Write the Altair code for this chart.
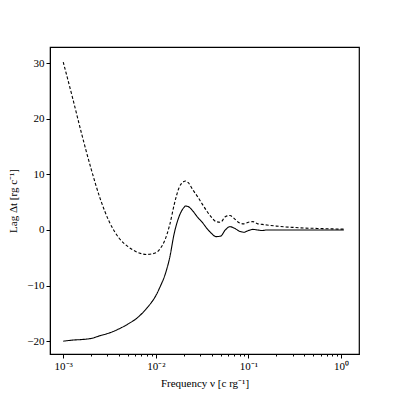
import altair as alt
import pandas as pd

# Frequency grid (c r_g^-1)
freq = [0.00100, 0.00126, 0.00158, 0.00200, 0.00251, 0.00316, 0.00398, 0.00501,
        0.00631, 0.00794, 0.0100, 0.0112, 0.0126, 0.0141, 0.0158, 0.0178, 0.0200,
        0.0209, 0.0224, 0.0251, 0.0282, 0.0316, 0.0355, 0.0398, 0.0447, 0.0501,
        0.0562, 0.0631, 0.0708, 0.0794, 0.0891, 0.100, 0.112, 0.126, 0.141, 0.158,
        0.200, 0.251, 0.316, 0.398, 0.501, 0.631, 0.794, 1.000, 1.07]

lag_solid = [-20.0, -19.8, -19.7, -19.5, -19.0, -18.5, -17.8, -16.9,
             -15.8, -14.1, -11.8, -10.1, -8.0, -5.0, -0.6, 2.4, 4.0,
             4.3, 4.2, 3.4, 2.3, 1.4, 0.3, -0.6, -1.2, -1.1,
             0.0, 0.6, 0.3, -0.2, -0.4, -0.1, 0.1, 0.0, -0.1, 0.0,
             0.0, 0.0, 0.0, 0.0, 0.0, 0.0, 0.0, 0.0, 0.0]

lag_dashed = [30.2, 23.8, 17.3, 11.0, 5.6, 1.4, -1.4, -3.0,
              -4.0, -4.4, -4.1, -3.3, -1.7, 0.9, 4.6, 7.6, 8.7,
              8.8, 8.5, 7.2, 6.0, 4.7, 3.4, 2.3, 1.5, 1.4,
              2.4, 2.6, 2.0, 1.3, 1.1, 1.4, 1.5, 1.1, 1.0, 0.9,
              0.7, 0.55, 0.45, 0.35, 0.3, 0.25, 0.2, 0.15, 0.15]

major_ticks = [0.001, 0.01, 0.1, 1]
minor_ticks = [m * d for d in (0.001, 0.01, 0.1) for m in (2, 3, 4, 5, 6, 7, 8, 9)]
y_ticks = [-20, -10, 0, 10, 20, 30]

df = pd.DataFrame({
    "freq": freq * 2,
    "lag": lag_solid + lag_dashed,
    "series": ["solid"] * len(freq) + ["dashed"] * len(freq),
})
minor_df = pd.DataFrame({"freq": minor_ticks})

FONT = "Liberation Serif"
xscale = alt.Scale(type="log", domain=[0.00072, 1.56])

label_expr = ("datum.value == 1 ? '10⁰' : datum.value == 0.1 ? '10⁻¹' : "
              "datum.value == 0.01 ? '10⁻²' : '10⁻³'")

lines = alt.Chart(df).mark_line(color="black", strokeWidth=1.1, interpolate="monotone").encode(
    x=alt.X("freq:Q", scale=xscale,
            axis=alt.Axis(values=major_ticks, labelExpr=label_expr, title="Frequency ν [c rg⁻¹]",
                          grid=False, tickSize=4, labelFontSize=11, titleFontSize=11,
                          labelFont=FONT, titleFont=FONT, titleFontWeight="normal",
                          domainColor="black", tickColor="black", labelColor="black",
                          titleColor="black", labelPadding=2, titlePadding=6)),
    y=alt.Y("lag:Q", scale=alt.Scale(domain=[-22.3, 32.9], nice=False, zero=False),
            axis=alt.Axis(values=y_ticks, title="Lag Δt [rg c⁻¹]", grid=False, tickSize=4,
                          labelFontSize=11, titleFontSize=11, labelFont=FONT, titleFont=FONT,
                          titleFontWeight="normal", domainColor="black", tickColor="black",
                          labelColor="black", titleColor="black", labelPadding=2,
                          titlePadding=8, format="d")),
    strokeDash=alt.StrokeDash("series:N", scale=alt.Scale(domain=["solid", "dashed"],
                                                          range=[[1, 0], [3, 2]]), legend=None),
)

minor = alt.Chart(minor_df).mark_point(opacity=0).encode(
    x=alt.X("freq:Q", scale=xscale,
            axis=alt.Axis(values=minor_ticks, labels=False, title=None, domain=False,
                          grid=False, tickSize=2, orient="bottom", tickColor="black")),
)

chart = alt.layer(lines, minor).resolve_axis(x="independent").properties(
    width=309, height=307,
    autosize="none",
    padding={"left": 42, "top": 39, "right": 30, "bottom": 40},
).configure_view(stroke="black", strokeWidth=1.2)

chart.save("out.html", embed_options={"renderer": "svg", "actions": False})
